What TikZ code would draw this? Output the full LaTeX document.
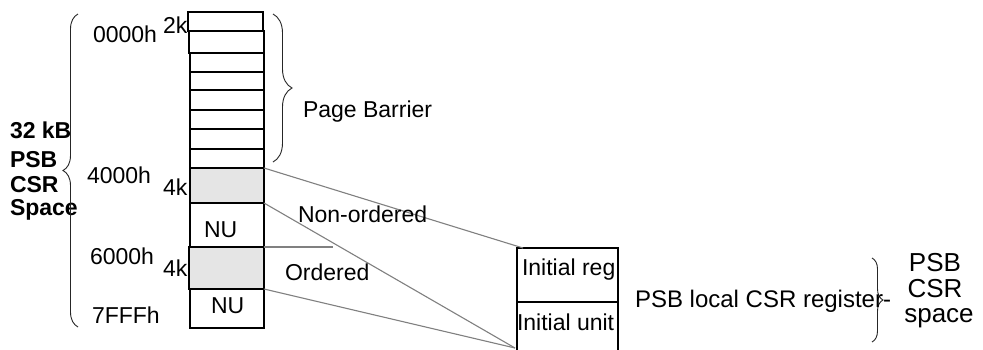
\documentclass[tikz,border=0pt]{standalone}
\usepackage{fontspec}
\setmainfont{Liberation Sans}
\usetikzlibrary{decorations.pathreplacing,calc}
\begin{document}
\begin{tikzpicture}[x=1pt,y=-1pt,
  every node/.style={font=\fontsize{23}{25}\selectfont},
  cell/.style={draw, line width=2pt, minimum width=75pt, inner sep=0pt, outer sep=0pt, anchor=north west},
  shaded/.style={cell, fill=black!10},
  lbl/.style={inner sep=0pt, outer sep=0pt, anchor=base west},
  boldlbl/.style={lbl, font=\fontsize{23}{25}\selectfont\bfseries},
  biglbl/.style={inner sep=0pt, outer sep=0pt, anchor=base, font=\fontsize{26}{26}\selectfont},
  conn/.style={draw=black!50, line width=1.1pt},
  curly/.style={decorate, draw=black!85, line width=0.9pt}]
\clip (0,0) rectangle (983,349);
\fill[white] (0,0) rectangle (983,349);

% memory column
\node[cell, minimum height=19pt] (r0) at (188,12) {};
\node[cell, minimum height=22pt] (r1) at (189,31) {};
\node[cell, minimum width=74pt, minimum height=19pt] (r2) at (190,53) {};
\node[cell, minimum width=74pt, minimum height=18pt] (r3) at (190,72) {};
\node[cell, minimum width=74pt, minimum height=20pt] (r4) at (190,90) {};
\node[cell, minimum width=74pt, minimum height=19pt] (r5) at (190,110) {};
\node[cell, minimum width=74pt, minimum height=20pt] (r6) at (190,129) {};
\node[cell, minimum width=74pt, minimum height=19pt] (r7) at (190,149) {};
\node[shaded, minimum width=74pt, minimum height=35pt] (g1) at (190,168) {};
\node[cell, minimum width=74pt, minimum height=44pt] (nu1) at (190,203) {};
\node[shaded, minimum height=42pt] (g2) at (189,247) {};
\node[cell, minimum width=74pt, minimum height=39pt] (nu2) at (190,289) {};

% local register block (open at the bottom)
\node[cell, minimum width=101pt, minimum height=54pt] (reg1) at (517,248) {};
\node[cell, minimum width=101pt, minimum height=70pt] (reg2) at (517,302) {};

% address and size labels
\node[lbl] (a0) at (93,42) {0000h};
\node[lbl] (k0) at (163,33) {2k};
\node[lbl] (a1) at (87,183) {4000h};
\node[lbl] (k1) at (163,195) {4k};
\node[lbl] (n1) at (204,237) {NU};
\node[lbl] (a2) at (90,264) {6000h};
\node[lbl] (k2) at (163,276) {4k};
\node[lbl] (n2) at (211,313) {NU};
\node[lbl] (a3) at (92,323) {7FFFh};

% space title
\node[boldlbl] (b1) at (10,138) {32 kB};
\node[boldlbl] (b2) at (10,167) {PSB};
\node[boldlbl] (b3) at (10,192) {CSR};
\node[boldlbl] (b4) at (10,215) {Space};

% braces
\draw[curly, decoration={brace, amplitude=15pt}] (78,327) -- (78,14);
\draw[curly, decoration={brace, amplitude=19pt}] (273,14) -- (273,162);
\draw[curly, decoration={brace, amplitude=11pt}] (872,258) -- (872,342);

\node[lbl] (pb) at (303,117) {Page Barrier};

% mapping lines
\coordinate (fan) at (515,348);
\coordinate (tick) at (333,247);
\draw[conn] (g1.north east) -- ($(reg1.north west)+(6,0)$);
\draw[conn] (g1.south east) -- (fan);
\draw[conn] (g2.south east) -- (fan);
\draw[conn, line width=2pt] (g2.north east) -- (tick);

\node[lbl] (no) at (298,222) {Non-ordered};
\node[lbl] (o) at (285,280) {Ordered};

\node[lbl] (ir) at (522,275) {Initial reg};
\node[lbl] (iu) at (517,330) {Initial unit};

\node[lbl, font=\fontsize{24}{26}\selectfont] (loc) at (635,307) {PSB local CSR register-};
\node[biglbl] (s1) at (935,271) {PSB};
\node[biglbl] (s2) at (935,297) {CSR};
\node[biglbl] (s3) at (939,322) {space};
\end{tikzpicture}
\end{document}
